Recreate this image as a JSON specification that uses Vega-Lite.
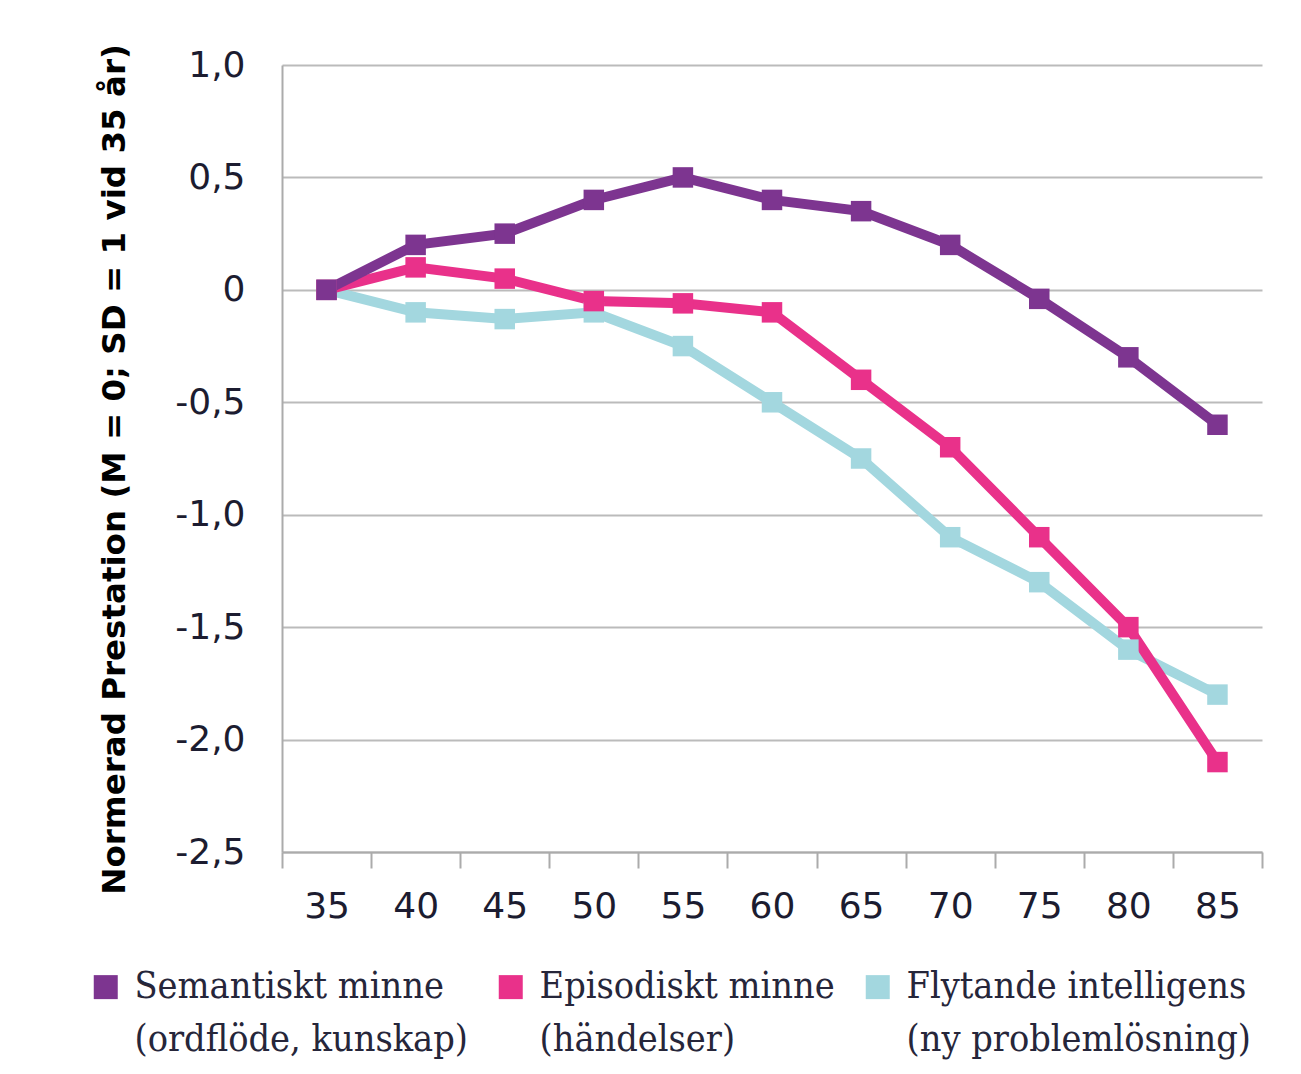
{
  "$schema": "https://vega.github.io/schema/vega-lite/v6.json",
  "width": 980,
  "height": 787,
  "autosize": {"type": "none"},
  "padding": {"left": 282, "top": 65, "right": 39, "bottom": 222},
  "background": "white",
  "data": {
    "values": [
      {"alder": 35, "varde": 0, "serie": "Flytande intelligens|(ny problemlösning)"},
      {"alder": 40, "varde": -0.1, "serie": "Flytande intelligens|(ny problemlösning)"},
      {"alder": 45, "varde": -0.13, "serie": "Flytande intelligens|(ny problemlösning)"},
      {"alder": 50, "varde": -0.1, "serie": "Flytande intelligens|(ny problemlösning)"},
      {"alder": 55, "varde": -0.25, "serie": "Flytande intelligens|(ny problemlösning)"},
      {"alder": 60, "varde": -0.5, "serie": "Flytande intelligens|(ny problemlösning)"},
      {"alder": 65, "varde": -0.75, "serie": "Flytande intelligens|(ny problemlösning)"},
      {"alder": 70, "varde": -1.1, "serie": "Flytande intelligens|(ny problemlösning)"},
      {"alder": 75, "varde": -1.3, "serie": "Flytande intelligens|(ny problemlösning)"},
      {"alder": 80, "varde": -1.6, "serie": "Flytande intelligens|(ny problemlösning)"},
      {"alder": 85, "varde": -1.8, "serie": "Flytande intelligens|(ny problemlösning)"},
      {"alder": 35, "varde": 0, "serie": "Episodiskt minne|(händelser)"},
      {"alder": 40, "varde": 0.1, "serie": "Episodiskt minne|(händelser)"},
      {"alder": 45, "varde": 0.05, "serie": "Episodiskt minne|(händelser)"},
      {"alder": 50, "varde": -0.05, "serie": "Episodiskt minne|(händelser)"},
      {"alder": 55, "varde": -0.06, "serie": "Episodiskt minne|(händelser)"},
      {"alder": 60, "varde": -0.1, "serie": "Episodiskt minne|(händelser)"},
      {"alder": 65, "varde": -0.4, "serie": "Episodiskt minne|(händelser)"},
      {"alder": 70, "varde": -0.7, "serie": "Episodiskt minne|(händelser)"},
      {"alder": 75, "varde": -1.1, "serie": "Episodiskt minne|(händelser)"},
      {"alder": 80, "varde": -1.5, "serie": "Episodiskt minne|(händelser)"},
      {"alder": 85, "varde": -2.1, "serie": "Episodiskt minne|(händelser)"},
      {"alder": 35, "varde": 0, "serie": "Semantiskt minne|(ordflöde, kunskap)"},
      {"alder": 40, "varde": 0.2, "serie": "Semantiskt minne|(ordflöde, kunskap)"},
      {"alder": 45, "varde": 0.25, "serie": "Semantiskt minne|(ordflöde, kunskap)"},
      {"alder": 50, "varde": 0.4, "serie": "Semantiskt minne|(ordflöde, kunskap)"},
      {"alder": 55, "varde": 0.5, "serie": "Semantiskt minne|(ordflöde, kunskap)"},
      {"alder": 60, "varde": 0.4, "serie": "Semantiskt minne|(ordflöde, kunskap)"},
      {"alder": 65, "varde": 0.35, "serie": "Semantiskt minne|(ordflöde, kunskap)"},
      {"alder": 70, "varde": 0.2, "serie": "Semantiskt minne|(ordflöde, kunskap)"},
      {"alder": 75, "varde": -0.04, "serie": "Semantiskt minne|(ordflöde, kunskap)"},
      {"alder": 80, "varde": -0.3, "serie": "Semantiskt minne|(ordflöde, kunskap)"},
      {"alder": 85, "varde": -0.6, "serie": "Semantiskt minne|(ordflöde, kunskap)"}
    ]
  },
  "encoding": {
    "x": {
      "field": "alder",
      "type": "ordinal",
      "scale": {"type": "band", "domain": [35, 40, 45, 50, 55, 60, 65, 70, 75, 80, 85], "paddingInner": 0, "paddingOuter": 0},
      "axis": {
        "title": null,
        "labelAngle": 0,
        "tickBand": "extent",
        "ticks": true,
        "tickSize": 16,
        "tickColor": "#ABABAB",
        "tickWidth": 2,
        "domainColor": "#ABABAB",
        "domainWidth": 2,
        "labelPadding": 21,
        "labelFont": "DejaVu Sans",
        "labelFontSize": 36,
        "labelColor": "#1c1c30",
        "grid": false
      }
    },
    "y": {
      "field": "varde",
      "type": "quantitative",
      "scale": {"domain": [-2.5, 1], "nice": false, "zero": false},
      "axis": {
        "values": [-2.5, -2, -1.5, -1, -0.5, 0, 0.5, 1],
        "labelExpr": "datum.value == 0 ? '0' : (datum.value < 0 ? '-' : '') + replace(format(abs(datum.value), '.1f'), '.', ',')",
        "grid": true,
        "gridColor": "#BBBBBB",
        "gridWidth": 2,
        "ticks": false,
        "domain": true,
        "domainColor": "#ABABAB",
        "domainWidth": 2,
        "labelPadding": 37,
        "labelFont": "DejaVu Sans",
        "labelFontSize": 36,
        "labelColor": "#1c1c30",
        "title": "Normerad Prestation (M = 0; SD = 1 vid 35 år)",
        "titleFont": "DejaVu Sans",
        "titleFontWeight": "bold",
        "titleFontSize": 32.5,
        "titleColor": "#000000",
        "titlePadding": 43,
        "titleY": 404
      }
    },
    "color": {
      "field": "serie",
      "type": "nominal",
      "scale": {
        "domain": ["Semantiskt minne|(ordflöde, kunskap)", "Episodiskt minne|(händelser)", "Flytande intelligens|(ny problemlösning)"],
        "range": ["#7D3590", "#E9318A", "#A3D7DF"]
      },
      "legend": {
        "orient": "none",
        "legendX": -195,
        "legendY": 903,
        "direction": "horizontal",
        "columns": 3,
        "title": null,
        "symbolType": "square",
        "symbolSize": 576,
        "symbolStrokeWidth": 0,
        "labelFont": "DejaVu Serif Condensed",
        "labelFontSize": 37.5,
        "labelColor": "#26263a",
        "labelLimit": 600,
        "labelOffset": 10,
        "columnPadding": 24,
        "labelExpr": "split(datum.label, '|')",
        "encode": {"labels": {"update": {"lineHeight": {"value": 53}}}}
      }
    }
  },
  "layer": [
    {"mark": {"type": "line", "strokeWidth": 10}},
    {"mark": {"type": "point", "shape": "square", "filled": true, "size": 420, "opacity": 1}}
  ],
  "config": {"view": {"stroke": null}}
}
